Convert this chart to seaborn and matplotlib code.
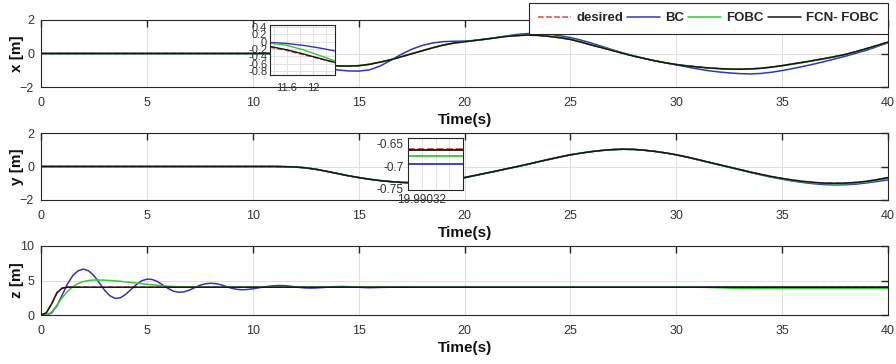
import numpy as np
import matplotlib
matplotlib.use("Agg")
import matplotlib.pyplot as plt
from matplotlib.lines import Line2D
import seaborn as sns

# time grids
t_xy = np.concatenate([[0, 5], np.arange(10, 40.01, 0.5)])
t_z = np.concatenate([np.arange(0, 16.01, 0.25), np.arange(17, 40.01, 1)])

# x [m]
desired_x = [0, 0, 0, 0, 0, -0.2, -0.46, -0.61, -0.68, -0.72, -0.74, -0.75, -0.73, -0.65, -0.52, -0.38,
             -0.2, -0.02, 0.16, 0.34, 0.5, 0.62, 0.7, 0.78, 0.86, 0.94, 1.02, 1.07, 1.1, 1.08, 1.02, 0.94,
             0.84, 0.68, 0.5, 0.34, 0.17, 0.0, -0.16, -0.3, -0.44, -0.56, -0.66, -0.74, -0.8, -0.86, -0.9,
             -0.93, -0.94, -0.92, -0.88, -0.81, -0.72, -0.62, -0.52, -0.41, -0.3, -0.18, -0.05, 0.12, 0.3,
             0.49, 0.68]
bc_x = [0, 0, 0, 0, 0, -0.03, -0.15, -0.4, -0.66, -0.86, -0.98, -1.04, -1.05, -0.98, -0.76, -0.42,
        -0.06, 0.25, 0.48, 0.63, 0.71, 0.73, 0.74, 0.78, 0.85, 0.95, 1.05, 1.14, 1.19, 1.21, 1.16, 1.06,
        0.95, 0.8, 0.62, 0.42, 0.22, 0.03, -0.15, -0.3, -0.44, -0.56, -0.68, -0.8, -0.92, -1.02, -1.1,
        -1.16, -1.2, -1.22, -1.19, -1.12, -1.02, -0.9, -0.77, -0.63, -0.48, -0.32, -0.16, 0.02, 0.2,
        0.42, 0.64]
fobc_x = [0, 0, 0, 0, 0, -0.08, -0.35, -0.55, -0.66, -0.71, -0.73, -0.74, -0.72, -0.64, -0.51, -0.37,
          -0.19, -0.01, 0.17, 0.35, 0.51, 0.63, 0.71, 0.79, 0.87, 0.95, 1.03, 1.08, 1.1, 1.08, 1.03, 0.96,
          0.86, 0.7, 0.52, 0.36, 0.19, 0.02, -0.14, -0.29, -0.43, -0.55, -0.65, -0.73, -0.8, -0.86, -0.9,
          -0.93, -0.94, -0.93, -0.89, -0.82, -0.74, -0.64, -0.54, -0.43, -0.32, -0.2, -0.07, 0.1, 0.28,
          0.47, 0.66]
fcn_x = [0, 0, 0, 0, 0, -0.18, -0.45, -0.6, -0.68, -0.72, -0.74, -0.75, -0.73, -0.65, -0.52, -0.38,
         -0.2, -0.02, 0.16, 0.34, 0.5, 0.62, 0.7, 0.78, 0.86, 0.94, 1.02, 1.07, 1.1, 1.08, 1.02, 0.94,
         0.84, 0.68, 0.5, 0.34, 0.17, 0.0, -0.16, -0.3, -0.44, -0.56, -0.66, -0.74, -0.8, -0.86, -0.9,
         -0.93, -0.94, -0.92, -0.88, -0.81, -0.72, -0.62, -0.52, -0.41, -0.3, -0.18, -0.05, 0.12, 0.3,
         0.49, 0.68]

# y [m]
desired_y = [0, 0, 0, 0, 0, -0.01, -0.03, -0.08, -0.17, -0.29, -0.42, -0.55, -0.66, -0.76, -0.84, -0.9,
             -0.95, -0.97, -0.95, -0.91, -0.84, -0.76, -0.66, -0.53, -0.4, -0.27, -0.13, 0.0, 0.14, 0.29,
             0.43, 0.57, 0.7, 0.8, 0.89, 0.96, 1.01, 1.03, 1.02, 0.97, 0.9, 0.81, 0.7, 0.57, 0.42, 0.27,
             0.12, -0.03, -0.18, -0.33, -0.47, -0.6, -0.71, -0.81, -0.89, -0.95, -0.99, -1.0, -0.99, -0.95,
             -0.88, -0.78, -0.66]
bc_y = [0, 0, 0, 0, 0, -0.01, -0.03, -0.08, -0.17, -0.29, -0.42, -0.55, -0.66, -0.76, -0.84, -0.9,
        -0.95, -0.97, -0.95, -0.91, -0.84, -0.76, -0.67, -0.54, -0.41, -0.28, -0.14, -0.01, 0.13, 0.28,
        0.42, 0.56, 0.69, 0.8, 0.89, 0.96, 1.01, 1.03, 1.02, 0.97, 0.9, 0.81, 0.69, 0.56, 0.41, 0.25,
        0.1, -0.05, -0.2, -0.36, -0.5, -0.64, -0.76, -0.87, -0.96, -1.03, -1.08, -1.1, -1.09, -1.05,
        -0.98, -0.89, -0.8]
fobc_y = [0, 0, 0, 0, 0, -0.01, -0.03, -0.08, -0.17, -0.29, -0.42, -0.55, -0.66, -0.76, -0.84, -0.9,
          -0.95, -0.97, -0.95, -0.91, -0.84, -0.76, -0.67, -0.54, -0.4, -0.27, -0.13, 0.0, 0.14, 0.29,
          0.43, 0.57, 0.7, 0.8, 0.89, 0.96, 1.01, 1.03, 1.02, 0.97, 0.9, 0.81, 0.7, 0.56, 0.41, 0.26,
          0.11, -0.04, -0.19, -0.34, -0.48, -0.62, -0.73, -0.84, -0.92, -0.98, -1.02, -1.04, -1.03, -0.99,
          -0.92, -0.82, -0.72]
fcn_y = [0, 0, 0, 0, 0, -0.01, -0.03, -0.08, -0.17, -0.29, -0.42, -0.55, -0.66, -0.76, -0.84, -0.9,
         -0.95, -0.97, -0.95, -0.91, -0.84, -0.76, -0.66, -0.53, -0.4, -0.27, -0.13, 0.0, 0.14, 0.29,
         0.43, 0.57, 0.7, 0.8, 0.89, 0.96, 1.01, 1.03, 1.02, 0.97, 0.9, 0.81, 0.7, 0.57, 0.42, 0.27,
         0.12, -0.03, -0.18, -0.33, -0.47, -0.6, -0.71, -0.81, -0.89, -0.95, -0.99, -1.0, -0.99, -0.95,
         -0.88, -0.78, -0.66]

# z [m]
fcn_z = [0, 0.3, 1.6, 3.2, 3.9] + [4.03] * 84
desired_z = [0, 0.3, 1.6, 3.2, 3.9] + [4.03] * 84
bc_z = [0, 0, 0.3, 1.3, 2.9, 4.5, 5.7, 6.4, 6.65, 6.4, 5.7, 4.7, 3.6, 2.8, 2.4, 2.5, 3.0, 3.7, 4.4,
        4.95, 5.2, 5.15, 4.85, 4.35, 3.85, 3.45, 3.3, 3.35, 3.6, 3.95, 4.3, 4.52, 4.6, 4.55, 4.38, 4.12,
        3.88, 3.72, 3.66, 3.7, 3.8, 3.92, 4.05, 4.16, 4.24, 4.27, 4.25, 4.18, 4.08, 3.98, 3.92, 3.9, 3.92,
        3.97, 4.03, 4.09, 4.12, 4.13, 4.11, 4.07, 4.02, 3.98, 3.96, 3.97, 4.0] + [4.05, 4.02] + [4.03] * 22
fobc_z = [0, 0, 0.4, 1.4, 2.5, 3.4, 4.1, 4.55, 4.85, 5.0, 5.07, 5.08, 5.05, 5.0, 4.95, 4.88, 4.8, 4.72,
          4.63, 4.54, 4.46, 4.38, 4.3, 4.24, 4.18, 4.13, 4.09, 4.06, 4.04] + [4.03] * 36 \
         + [4.03] * 15 + [3.95, 3.85] + [3.83] * 7

# zoom windows
zoom1_t = [11.34, 11.6, 11.85, 12.1, 12.34]
zoom1_desired = [-0.15, -0.24, -0.35, -0.46, -0.57]
zoom1_bc = [-0.02, -0.05, -0.1, -0.17, -0.25]
zoom1_fobc = [-0.04, -0.1, -0.22, -0.37, -0.52]
zoom1_fcn = [-0.13, -0.22, -0.33, -0.45, -0.56]

zoom2_t = [19.99031, 19.99035]
zoom2_desired = [-0.6605, -0.6605]
zoom2_bc = [-0.695, -0.695]
zoom2_fobc = [-0.6775, -0.6775]
zoom2_fcn = [-0.6628, -0.6628]

names = ["desired", "BC", "FOBC", "FCN- FOBC"]
colors = ["#e0443c", "#3434b4", "#3cc43c", "#151515"]
styles = ["--", "-", "-", "-"]

sns.set_theme(style="white")
plt.rcParams["font.family"] = ["Liberation Sans", "DejaVu Sans"]
plt.rcParams["axes.edgecolor"] = "#262626"
plt.rcParams["axes.linewidth"] = 0.8

fig = plt.figure(figsize=(8.96, 3.64), dpi=100)
W, H = 896, 364


def add_ax(x0, y0, x1, y1):
    return fig.add_axes([x0 / W, 1 - y1 / H, (x1 - x0) / W, (y1 - y0) / H])


def draw(ax, t, series, lw=1.1):
    for vals, c, ls in zip(series, colors, styles):
        sns.lineplot(x=t, y=vals, ax=ax, color=c, linestyle=ls, linewidth=lw,
                     sort=False, estimator=None, legend=False)


def style_main(ax, ylim, yticks, ylabel):
    ax.set_xlim(0, 40)
    ax.set_ylim(*ylim)
    ax.set_xticks(range(0, 41, 5))
    ax.set_yticks(yticks)
    ax.grid(True, color="#dedede", linewidth=0.7)
    ax.tick_params(direction="in", length=5, width=1.0, color="#262626", top=True, right=True,
                   labelsize=9, labelcolor="#333333", pad=5)
    ax.tick_params(axis="x", pad=7)
    ax.set_xlabel("Time(s)", fontsize=11, fontweight="bold", labelpad=3, color="#111111")
    ax.set_ylabel(ylabel, fontsize=11, fontweight="bold", color="#111111")
    ax.yaxis.set_label_coords(-0.02, 0.5)


ax1 = add_ax(41, 20, 888, 87)
draw(ax1, t_xy, [desired_x, bc_x, fobc_x, fcn_x])
style_main(ax1, (-2, 2), [-2, 0, 2], "x [m]")

ax2 = add_ax(41, 133, 888, 200)
draw(ax2, t_xy, [desired_y, bc_y, fobc_y, fcn_y])
style_main(ax2, (-2, 2), [-2, 0, 2], "y [m]")

ax3 = add_ax(41, 246, 888, 315)
draw(ax3, t_z, [desired_z, bc_z, fobc_z, fcn_z])
style_main(ax3, (0, 10), [0, 5, 10], "z [m]")

# inset on x
in1 = add_ax(270, 25, 335, 75)
draw(in1, zoom1_t, [zoom1_desired, zoom1_bc, zoom1_fobc, zoom1_fcn], lw=1.0)
in1.set_xlim(11.34, 12.34)
in1.set_ylim(-0.9, 0.45)
in1.set_xticks([11.4, 11.6, 11.8, 12.0, 12.2])
in1.set_xticklabels(["", "11.6", "", "12", ""])
in1.set_yticks([0.4, 0.2, 0, -0.2, -0.4, -0.6, -0.8])
in1.set_yticklabels(["0.4", "0.2", "0", "-0.2", "-0.4", "-0.6", "-0.8"])
in1.grid(True, color="#dedede", linewidth=0.6)
in1.tick_params(direction="in", length=2, width=0.6, labelsize=8, labelcolor="#333333", pad=2)
in1.tick_params(axis="x", pad=6)
in1.set_xlabel("")
in1.set_ylabel("")

# inset on y
in2 = add_ax(408, 138, 463, 190)
draw(in2, zoom2_t, [zoom2_desired, zoom2_bc, zoom2_fobc, zoom2_fcn], lw=1.3)
in2.set_xlim(19.99031, 19.99035)
in2.set_ylim(-0.753, -0.637)
in2.set_xticks([19.99032, 19.99033, 19.99034])
in2.set_xticklabels(["19.99032", "", ""])
in2.set_yticks([-0.65, -0.7, -0.75])
in2.set_yticklabels(["-0.65", "-0.7", "-0.75"])
in2.grid(True, axis="x", color="#dedede", linewidth=0.6)
in2.tick_params(direction="in", length=2, width=0.6, labelsize=8.5, labelcolor="#333333", pad=3)
in2.set_xlabel("")
in2.set_ylabel("")

handles = [Line2D([], [], color=c, linestyle=ls, linewidth=1.1) for c, ls in zip(colors, styles)]
leg = fig.legend(handles, names, loc="upper right", bbox_to_anchor=(888 / W, 1 - 3 / H), ncol=4,
                 frameon=True, fancybox=False, edgecolor="#262626", framealpha=1,
                 prop={"weight": "bold", "size": 9.5},
                 handlelength=2.5, handletextpad=0.4, columnspacing=0.3, borderpad=0.7,
                 borderaxespad=0)
leg.get_frame().set_linewidth(0.8)

fig.savefig("out.png", dpi=100)
